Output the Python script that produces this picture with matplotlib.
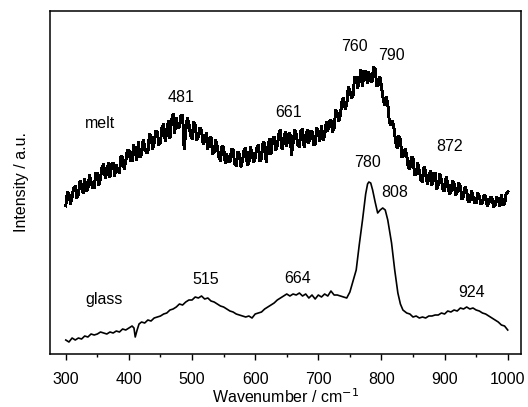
import numpy as np
import matplotlib.pyplot as plt
from matplotlib.ticker import MultipleLocator

plt.rcParams['font.family'] = ['Liberation Sans', 'DejaVu Sans']

# melt spectrum, points at 300, 305, ... 1000
melt_x_a = list(range(300, 1001, 5))
melt_y_a = [148, 160, 157, 168, 159, 169, 175, 165, 172, 166,
            181, 176, 190, 181, 177, 191, 189, 181, 196, 193,
            204, 193, 203, 212, 199, 207, 201, 218, 211, 222,
            212, 230, 222, 216, 240, 236, 227, 239, 223, 230,
            215, 229, 217, 224, 213, 205, 217, 202, 207, 193,
            206, 200, 192, 204, 188, 200, 194, 206, 191, 201,
            196, 209, 196, 210, 207, 200, 217, 208, 224, 212,
            208, 221, 211, 220, 207, 225, 215, 211, 223, 210,
            220, 228, 218, 223, 234, 226, 241, 239, 256, 249,
            263, 259, 277, 273, 268, 283, 282, 272, 285, 269,
            268, 249, 250, 229, 225, 206, 214, 198, 199, 185,
            196, 180, 183, 172, 183, 176, 169, 181, 169, 174,
            163, 171, 162, 170, 162, 168, 157, 163, 152, 158,
            151, 158, 151, 158, 151, 156, 149, 154, 159, 150,
            162]
# and the points in between, at 302.5, 307.5, ... 997.5
melt_x_b = [302.5 + 5 * i for i in range(140)]
melt_y_b = [162, 150, 166, 156, 173, 161, 163, 179, 166, 181,
            169, 187, 176, 191, 190, 178, 183, 198, 185, 204,
            193, 209, 194, 197, 214, 201, 220, 205, 223, 209,
            227, 213, 233, 234, 221, 226, 239, 205, 236, 219,
            232, 214, 226, 210, 221, 216, 200, 214, 197, 208,
            191, 192, 205, 190, 202, 187, 204, 189, 207, 192,
            206, 193, 212, 192, 215, 215, 204, 220, 205, 222,
            220, 199, 224, 209, 223, 207, 224, 223, 209, 226,
            213, 214, 232, 232, 222, 244, 233, 253, 245, 267,
            256, 277, 266, 284, 283, 271, 273, 287, 268, 277,
            256, 257, 232, 233, 212, 218, 197, 205, 186, 197,
            179, 191, 174, 187, 170, 183, 181, 165, 180, 164,
            177, 160, 173, 159, 171, 155, 167, 152, 163, 151,
            161, 150, 159, 148, 157, 147, 157, 148, 149, 160]

# glass spectrum
glass_x = [300, 305, 310, 315, 320, 325, 330, 335, 340, 345,
           350, 355, 360, 365, 370, 375, 380, 385, 390, 395,
           400, 405, 408, 410, 413, 416, 420, 425, 430, 435,
           440, 445, 450, 455, 460, 465, 470, 475, 480, 485,
           490, 495, 500, 505, 510, 515, 520, 525, 530, 535,
           540, 545, 550, 555, 560, 565, 570, 575, 580, 585,
           590, 595, 600, 605, 610, 615, 620, 625, 630, 635,
           640, 645, 650, 655, 660, 665, 670, 675, 680, 685,
           690, 695, 700, 705, 710, 715, 720, 725, 730, 735,
           740, 745, 750, 755, 760, 765, 770, 775, 778, 780,
           783, 786, 790, 794, 798, 802, 806, 810, 816, 821,
           826, 830, 834, 840, 845, 850, 855, 860, 865, 870,
           875, 880, 885, 890, 895, 900, 905, 910, 915, 920,
           925, 930, 935, 940, 945, 950, 955, 960, 965, 970,
           975, 980, 985, 990, 995, 1000]
glass_y = [14, 12, 16, 14, 16, 15, 18, 17, 20, 19,
           20, 22, 21, 20, 22, 21, 23, 22, 25, 24,
           26, 28, 26, 17, 24, 30, 32, 31, 34, 33,
           36, 37, 38, 40, 41, 44, 45, 47, 50, 49,
           52, 54, 54, 57, 56, 58, 55, 56, 53, 52,
           50, 48, 47, 45, 43, 42, 40, 39, 38, 37,
           38, 36, 40, 41, 42, 45, 47, 49, 51, 54,
           56, 58, 60, 58, 60, 59, 61, 58, 60, 56,
           59, 55, 59, 57, 60, 58, 63, 59, 59, 58,
           57, 56, 62, 73, 84, 110, 134, 160, 170, 172,
           171, 164, 152, 141, 144, 146, 144, 134, 111, 84,
           61, 50, 44, 41, 40, 37, 38, 36, 37, 36,
           38, 38, 39, 39, 41, 40, 43, 42, 44, 43,
           46, 45, 47, 45, 46, 44, 43, 41, 40, 38,
           36, 34, 32, 29, 28, 24]

# peak labels: text, x, y
labels = [('melt', 354, 230), ('481', 482, 256), ('661', 653, 241),
          ('760', 758, 307), ('790', 816, 298), ('872', 908, 207),
          ('780', 778, 191), ('808', 821, 161), ('glass', 360, 55),
          ('515', 522, 75), ('664', 667, 76), ('924', 943, 62)]

# put the two melt halves together in order
melt_x = np.empty(len(melt_x_a) + len(melt_x_b))
melt_y = np.empty_like(melt_x)
melt_x[0::2], melt_x[1::2] = melt_x_a, melt_x_b
melt_y[0::2], melt_y[1::2] = melt_y_a, melt_y_b

fig = plt.figure(figsize=(5.28, 4.07), dpi=100)
ax = fig.add_axes([0.0947, 0.1302, 0.892, 0.8428])

ax.plot(melt_x, melt_y, color='black', lw=1.4, antialiased=False)
ax.plot(glass_x, glass_y, color='black', lw=1.2)

for txt, x, y in labels:
    ax.text(x, y, txt, ha='center', va='center', fontsize=11.5)

ax.set_xlim(275, 1021)
ax.set_ylim(0, 343)
ax.xaxis.set_major_locator(MultipleLocator(100))
ax.xaxis.set_minor_locator(MultipleLocator(50))
ax.set_yticks([])
ax.tick_params(axis='x', which='major', direction='out', length=4, width=1.0,
               labelsize=11.5, pad=9)
ax.tick_params(axis='x', which='minor', direction='out', length=2.5, width=1.0)
for s in ax.spines.values():
    s.set_linewidth(1.1)

ax.set_xlabel('Wavenumber / cm$^{-1}$', fontsize=11.5, labelpad=0.5)
ax.set_ylabel('Intensity / a.u.', fontsize=11.5, labelpad=15)

fig.savefig('out.png', dpi=100)
